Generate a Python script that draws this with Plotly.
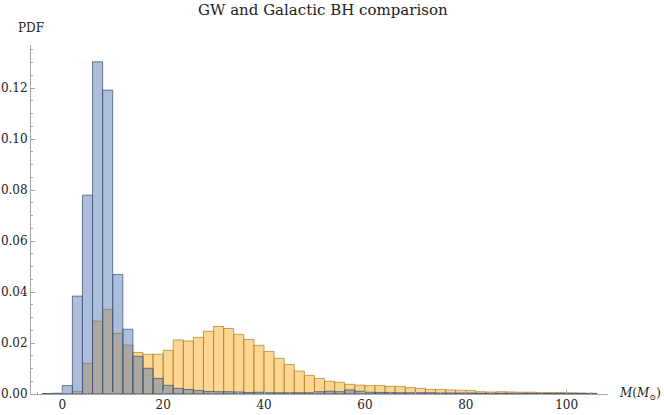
import plotly.graph_objects as go

# bin left edges (width 2)
bin_edges = list(range(-4, 106, 2))
bin_width = 2

galactic_pdf = [
    0.0002, 0.0003, 0.0033, 0.0384, 0.0780, 0.1303, 0.1192, 0.0469, 0.0254, 0.0148,
    0.0101, 0.0061, 0.0034, 0.0022, 0.0018, 0.0014, 0.0010, 0.0009, 0.0009, 0.0008,
    0.0006, 0.0007, 0.0005, 0.0005, 0.0005, 0.0005, 0.0005, 0.0009, 0.0011, 0.0009,
    0.0016, 0.0011, 0.0007, 0.0006, 0.0006, 0.0005, 0.0005, 0.0005, 0.0005, 0.0004,
    0.0004, 0.0004, 0.0004, 0.0003, 0.0003, 0.0003, 0.0003, 0.0003, 0.0003, 0.0002,
    0.0002, 0.0002, 0.0002, 0.0002, 0.0001,
]

gw_pdf = [
    0.0, 0.0, 0.0, 0.0010, 0.0120, 0.0286, 0.0332, 0.0238, 0.0192, 0.0163,
    0.0156, 0.0156, 0.0171, 0.0212, 0.0208, 0.0222, 0.0246, 0.0265, 0.0257, 0.0234,
    0.0214, 0.0191, 0.0167, 0.0140, 0.0116, 0.0090, 0.0073, 0.0061, 0.0050, 0.0046,
    0.0038, 0.0035, 0.0033, 0.0033, 0.0030, 0.0030, 0.0025, 0.0022, 0.0018, 0.0018,
    0.0016, 0.0015, 0.0014, 0.0009, 0.0008, 0.0009, 0.0008, 0.0007, 0.0007, 0.0006,
    0.0006, 0.0006, 0.0005, 0.0004, 0.0003,
]

x_ticks = [0, 20, 40, 60, 80, 100]
y_ticks = [0.00, 0.02, 0.04, 0.06, 0.08, 0.10, 0.12]

centers = [e + bin_width / 2 for e in bin_edges]
n = min(len(centers), len(galactic_pdf), len(gw_pdf))

FONT = "DejaVu Serif"

fig = go.Figure()
fig.add_trace(go.Bar(
    x=centers[:n], y=gw_pdf[:n], width=bin_width,
    marker=dict(color="rgba(251,173,35,0.5)",
                line=dict(color="rgba(175,125,40,0.7)", width=1)),
    name="GW",
))
fig.add_trace(go.Bar(
    x=centers[:n], y=galactic_pdf[:n], width=bin_width,
    marker=dict(color="rgba(80,117,177,0.47)",
                line=dict(color="rgba(60,85,125,0.75)", width=1)),
    name="Galactic",
))

axis_color = "#a6a6a6"
fig.update_layout(
    width=664, height=415,
    margin=dict(l=31, r=56, t=45, b=21),
    barmode="overlay",
    showlegend=False,
    plot_bgcolor="white", paper_bgcolor="white",
    font=dict(family=FONT, size=12, color="#222222"),
    xaxis=dict(
        range=[-6.2, 108.2], tickvals=x_ticks, ticks="inside", ticklen=4,
        tickcolor=axis_color, showline=True, linecolor=axis_color, linewidth=1,
        showgrid=False, zeroline=False, automargin=False,
        minor=dict(dtick=5, tick0=0, ticks="inside", ticklen=2, tickcolor=axis_color),
        tickfont=dict(family=FONT, size=12, color="#222222"),
    ),
    yaxis=dict(
        range=[0, 0.1369], tickvals=y_ticks, tickformat=".2f", ticks="inside",
        ticklen=4, tickcolor=axis_color, showline=True, linecolor=axis_color,
        linewidth=1, showgrid=False, zeroline=False, automargin=False,
        minor=dict(dtick=0.005, tick0=0, ticks="inside", ticklen=2, tickcolor=axis_color),
        tickfont=dict(family=FONT, size=12, color="#222222"),
    ),
    annotations=[
        dict(text="GW and Galactic BH comparison", xref="paper", yref="paper",
             x=0.506, y=1 + 35 / 349, xanchor="center", yanchor="middle",
             showarrow=False, font=dict(family=FONT, size=15, color="#222222")),
        dict(text="PDF", xref="paper", yref="paper", x=0.0, y=1 + 17 / 349,
             xanchor="center", yanchor="middle", showarrow=False,
             font=dict(family=FONT, size=12, color="#222222")),
        dict(text="<i>M</i>(<i>M</i><sub>⊙</sub>)", xref="paper", yref="paper",
             x=1 + 9 / 577, y=0.0, xanchor="left", yanchor="middle", showarrow=False,
             font=dict(family=FONT, size=12, color="#222222")),
    ],
)

fig.write_html("out.html",
               config={"displayModeBar": False},
               post_script="document.body.style.margin='0';document.body.style.overflow='hidden';")
